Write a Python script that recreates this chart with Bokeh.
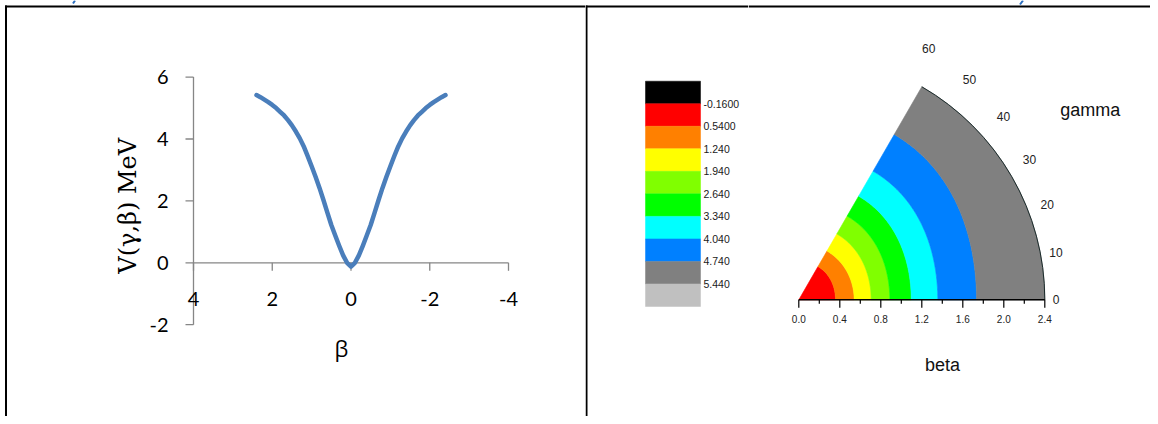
import numpy as np
from bokeh.plotting import figure
from bokeh.layouts import row
from bokeh.models import Range1d
from bokeh.core.properties import value
from bokeh.embed import file_html
from bokeh.resources import INLINE

# ---------------- data: left chart (potential vs beta) ----------------
beta_line = [2.4, 2.3, 2.2, 2.1, 2.0, 1.9, 1.8, 1.7, 1.6, 1.5, 1.4, 1.3, 1.2, 1.1, 1.0,
             0.9, 0.8, 0.7, 0.6, 0.5, 0.4, 0.3, 0.2, 0.1, 0.0,
             -0.1, -0.2, -0.3, -0.4, -0.5, -0.6, -0.7, -0.8, -0.9, -1.0, -1.1, -1.2,
             -1.3, -1.4, -1.5, -1.6, -1.7, -1.8, -1.9, -2.0, -2.1, -2.2, -2.3, -2.4]
v_line = [5.42, 5.35, 5.27, 5.19, 5.10, 5.00, 4.88, 4.76, 4.61, 4.44, 4.24, 4.02, 3.76, 3.45, 3.12,
          2.78, 2.42, 2.03, 1.62, 1.22, 0.88, 0.55, 0.24, 0.00, -0.12,
          0.00, 0.24, 0.55, 0.88, 1.22, 1.62, 2.03, 2.42, 2.78, 3.12, 3.45, 3.76,
          4.02, 4.24, 4.44, 4.61, 4.76, 4.88, 5.00, 5.10, 5.19, 5.27, 5.35, 5.42]
x_ticks = [4, 2, 0, -2, -4]
y_ticks = [-2, 0, 2, 4, 6]

# ---------------- data: right chart (polar contour) ----------------
legend_colors = ["#000000", "#FF0000", "#FF8000", "#FFFF00", "#80FF00",
                 "#00FF00", "#00FFFF", "#0080FF", "#808080", "#C0C0C0"]
legend_labels = ["-0.1600", "0.5400", "1.240", "1.940", "2.640",
                 "3.340", "4.040", "4.740", "5.440"]
band_colors = ["#FF0000", "#FF8000", "#FFFF00", "#80FF00",
               "#00FF00", "#00FFFF", "#0080FF", "#808080"]
contour_levels = [0.54, 1.24, 1.94, 2.64, 3.34, 4.04, 4.74]
contour_r_gamma0 = [0.358, 0.540, 0.706, 0.888, 1.097, 1.356, 1.734]
contour_r_gamma60 = [0.374, 0.549, 0.742, 0.943, 1.167, 1.449, 1.862]
beta_max = 2.4
gamma_max = 60
beta_ticks = [0.0, 0.4, 0.8, 1.2, 1.6, 2.0, 2.4]
beta_minor = [0.2, 0.6, 1.0, 1.4, 1.8, 2.2]
gamma_ticks = [0, 10, 20, 30, 40, 50, 60]

# ---------------- layout constants (pixel positions) ----------------
H = 416
XL, XM, XR, XE = 0, 585, 748, 1150      # figure boundaries
BORDER = "black"
AXIS_GRAY = "#868686"
FRAG_BLUE = "#2A6EC0"

# left chart mapping
PXX1, PXY1 = 39.375, 30.95
def dx1(px): return 4 - (px - 193.0) / PXX1
def dy1(py): return (262.3 - py) / PXY1

# legend mapping
BLK = 22.53
def dy2(py): return (306.0 - py) / BLK

# polar chart mapping
PX3 = 102.5
def dx3(px): return (px - 798.3) / PX3
def dy3(py): return (299.3 - py) / PX3


def base_fig(w, xr, yr):
    f = figure(width=w, height=H, x_range=xr, y_range=yr, output_backend="svg",
               toolbar_location=None, x_axis_location=None, y_axis_location=None,
               min_border=0, background_fill_color="white", border_fill_color="white")
    f.grid.visible = False
    f.outline_line_color = None
    return f


# ================= left figure =================
xr1 = Range1d(dx1(XL), dx1(XM))
yr1 = Range1d(dy1(H), dy1(0))
p1 = base_fig(XM - XL, xr1, yr1)

# cell borders (top and left)
p1.segment(x0=[dx1(4.5), dx1(5.5)], y0=[dy1(6), dy1(5)],
           x1=[dx1(XM), dx1(5.5)], y1=[dy1(6), dy1(H)],
           line_color=BORDER, line_width=2)
# small stroke of text cut off above the picture
p1.segment(x0=[dx1(74.5)], y0=[dy1(0)], x1=[dx1(72.5)], y1=[dy1(3)],
           line_color=FRAG_BLUE, line_width=2)

# y axis (at beta = 4)
p1.segment(x0=[x_ticks[0]], y0=[y_ticks[0]], x1=[x_ticks[0]], y1=[y_ticks[-1]],
           line_color=AXIS_GRAY, line_width=1.3)
p1.segment(x0=[x_ticks[0]] * len(y_ticks), y0=y_ticks,
           x1=[x_ticks[0] + 8 / PXX1] * len(y_ticks), y1=y_ticks,
           line_color=AXIS_GRAY, line_width=1.3)
p1.text(x=[x_ticks[0]] * len(y_ticks), y=y_ticks, text=[str(t) for t in y_ticks],
        x_offset=-25, text_align="right", text_baseline="middle",
        text_font=value("Lato"), text_font_size="20px", text_color="black")

# x axis (at V = 0)
p1.segment(x0=[x_ticks[0]], y0=[0], x1=[x_ticks[-1]], y1=[0],
           line_color=AXIS_GRAY, line_width=1.3)
p1.segment(x0=x_ticks, y0=[0] * len(x_ticks), x1=x_ticks, y1=[-8 / PXY1] * len(x_ticks),
           line_color=AXIS_GRAY, line_width=1.3)
p1.text(x=x_ticks, y=[0] * len(x_ticks), text=[str(t) for t in x_ticks],
        y_offset=36, text_align="center", text_baseline="middle",
        text_font=value("Lato"), text_font_size="20px", text_color="black")

# axis titles
p1.text(x=[dx1(341)], y=[dy1(347)], text=["β"], text_align="center", text_baseline="middle",
        text_font=value("Open Sans"), text_font_size="22px", text_color="black")
p1.text(x=[dx1(127)], y=[dy1(201.5)], text=["V(γ,β)  MeV"], angle=np.pi / 2,
        text_align="center", text_baseline="middle",
        text_font=value("DejaVu Serif"), text_font_size="24px", text_color="black")

# curve
p1.line(beta_line, v_line, line_color="#4A7EBB", line_width=4.5,
        line_cap="round", line_join="round")

# ================= legend figure =================
xr2 = Range1d(XM, XR)
yr2 = Range1d(dy2(H), dy2(0))
p2 = base_fig(XR - XM, xr2, yr2)
p2.segment(x0=[XM + 1, XM], y0=[dy2(H), dy2(6)], x1=[XM + 1, XR], y1=[dy2(5), dy2(6)],
           line_color=BORDER, line_width=2)
n = len(legend_colors)
p2.rect(x=[672.5] * n, y=[n - 0.5 - i for i in range(n)], width=55, height=1,
        fill_color=legend_colors, line_color=legend_colors, line_width=0.5)
p2.text(x=[703] * len(legend_labels), y=[n - 1 - k for k in range(len(legend_labels))],
        text=legend_labels, text_align="left", text_baseline="middle",
        text_font=value("Liberation Sans"), text_font_size="10.5px", text_color="#1a1a1a")

# ================= polar figure =================
xr3 = Range1d(dx3(XR), dx3(XE))
yr3 = Range1d(dy3(H), dy3(0))
p3 = base_fig(XE - XR, xr3, yr3)
p3.segment(x0=[dx3(XR)], y0=[dy3(6)], x1=[dx3(XE)], y1=[dy3(6)],
           line_color=BORDER, line_width=2)
# small stroke of text cut off above the picture
p3.segment(x0=[dx3(1022.5)], y0=[dy3(0)], x1=[dx3(1019.5)], y1=[dy3(4)],
           line_color=FRAG_BLUE, line_width=2)

gam = np.radians(np.linspace(0, gamma_max, 121))


def contour_r(k):
    r0, r60 = contour_r_gamma0[k], contour_r_gamma60[k]
    return r0 + (r60 - r0) * (1 - np.cos(3 * gam)) / 2


xs, ys = [], []
for i, c in enumerate(band_colors):
    if i < len(contour_levels):
        ro = contour_r(i)
    else:
        ro = np.full_like(gam, beta_max)
    ox, oy = ro * np.cos(gam), ro * np.sin(gam)
    if i == 0:
        ix, iy = np.array([0.0]), np.array([0.0])
    else:
        ri = contour_r(i - 1)
        ix, iy = (ri * np.cos(gam))[::-1], (ri * np.sin(gam))[::-1]
    xs.append(np.concatenate([ox, ix]).tolist())
    ys.append(np.concatenate([oy, iy]).tolist())
p3.patches(xs, ys, fill_color=band_colors, line_color=band_colors, line_width=0.6)

# outer arc outline
p3.arc(x=[0], y=[0], radius=beta_max, start_angle=0, end_angle=np.radians(gamma_max),
       line_color="#1a2a2a", line_width=1)

# beta axis
p3.segment(x0=[0], y0=[0], x1=[beta_max], y1=[0], line_color="black", line_width=1.5)
p3.segment(x0=beta_ticks, y0=[0] * len(beta_ticks), x1=beta_ticks,
           y1=[-8 / PX3] * len(beta_ticks), line_color="black", line_width=1.2)
p3.segment(x0=beta_minor, y0=[0] * len(beta_minor), x1=beta_minor,
           y1=[-4 / PX3] * len(beta_minor), line_color="black", line_width=1.2)
p3.text(x=beta_ticks, y=[0] * len(beta_ticks), text=[f"{b:.1f}" for b in beta_ticks],
        y_offset=19, text_align="center", text_baseline="middle",
        text_font=value("Liberation Sans"), text_font_size="10px", text_color="#222222")

# gamma labels around the arc
g_arr = np.array(gamma_ticks, dtype=float)
lab_ang = np.radians(g_arr * 1.045)
lab_r = 2.51 + 0.0042 * g_arr
p3.text(x=(lab_r * np.cos(lab_ang)).tolist(), y=(lab_r * np.sin(lab_ang)).tolist(),
        text=[str(g) for g in gamma_ticks], text_align="center", text_baseline="middle",
        text_font=value("Liberation Sans"), text_font_size="12px", text_color="#222222")

# titles
p3.text(x=[dx3(1089.7)], y=[dy3(109)], text=["gamma"], text_align="center",
        text_baseline="middle", text_font=value("Liberation Sans"), text_font_size="18px",
        text_color="#111111")
p3.text(x=[dx3(942)], y=[dy3(364)], text=["beta"], text_align="center",
        text_baseline="middle", text_font=value("Liberation Sans"), text_font_size="18px",
        text_color="#111111")

layout = row(p1, p2, p3, spacing=0)
open("out.html", "w").write(file_html(layout, INLINE))
